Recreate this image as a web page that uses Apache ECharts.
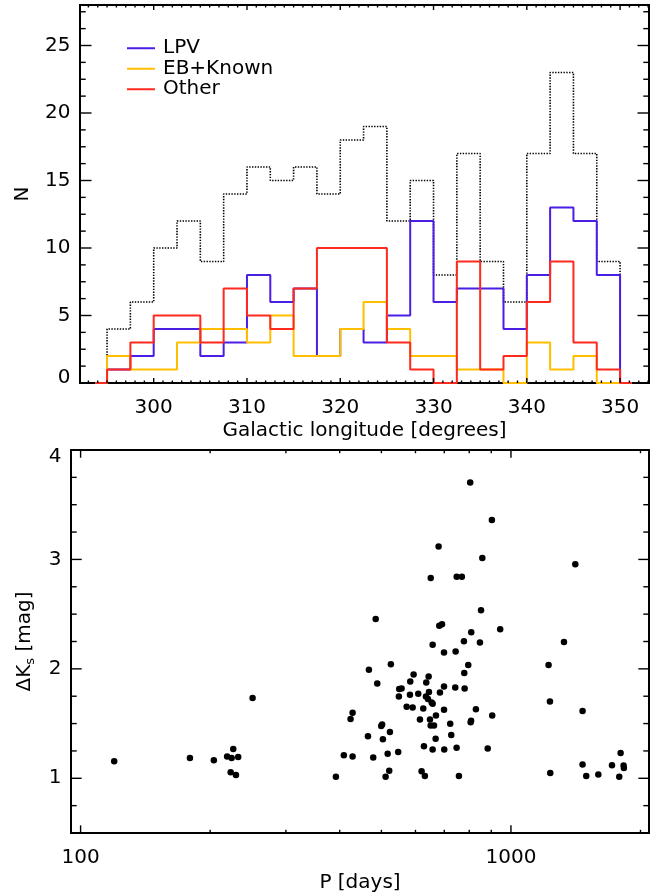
<!DOCTYPE html>
<html>
<head>
<meta charset="utf-8">
<script src="https://cdn.jsdelivr.net/npm/echarts@6/dist/echarts.min.js"></script>
<style>html,body{margin:0;padding:0;background:#fff;}#c{width:660px;height:896px;}</style>
</head>
<body>
<div id="c"></div>
<script>
// ---- Top panel: histogram of galactic longitude (bin centres, 2.5 deg bins) ----
const binCenters = [293.75, 296.25, 298.75, 301.25, 303.75, 306.25, 308.75, 311.25, 313.75, 316.25, 318.75, 321.25,
                    323.75, 326.25, 328.75, 331.25, 333.75, 336.25, 338.75, 341.25, 343.75, 346.25, 348.75, 351.25];
const totalCounts = [0, 4, 6, 10, 12, 9, 14, 16, 15, 16, 14, 18, 19, 12, 15, 8, 17, 9, 6, 17, 23, 17, 9, 0];
const lpvCounts   = [0, 1, 2, 4, 4, 2, 3, 8, 6, 7, 2, 4, 3, 5, 12, 6, 7, 7, 4, 8, 13, 12, 8, 0];
const ebCounts    = [0, 2, 1, 1, 3, 4, 4, 3, 5, 2, 2, 4, 6, 4, 2, 2, 1, 1, 0, 3, 1, 2, 0, 0];
const otherCounts = [0, 1, 3, 5, 5, 3, 7, 5, 4, 7, 10, 10, 10, 3, 1, 0, 9, 1, 2, 6, 9, 3, 1, 0];
const legendNames = ['LPV', 'EB+Known', 'Other'];

// ---- Bottom panel: amplitude vs period ----
const periods = [
  119.7, 179.5, 204, 219, 224.4, 226.3, 232.4, 223.2, 229.6, 251, 392, 409, 424, 428.6, 428.6,
  657.7, 777.6, 847, 698.9, 743.7, 1328, 1223, 526, 467.7, 489, 594, 643.7, 583.5, 635.6, 550,
  557, 549, 582.5, 609, 634.6, 644.9, 641.5, 654.3, 657.7, 683.9, 699, 742.3, 780.5, 778.9, 795.7,
  572.3, 591, 625.5, 699, 829, 904.6, 614.5, 648.4, 669.5, 650.8, 662.5, 722.5, 806, 808, 499.5,
  502, 523.3, 465.3, 504, 668.3, 726.5, 627.8, 657.7, 699.8, 747.7, 883, 547, 517, 478.6, 521.4,
  511.4, 620, 631, 757, 1232, 1467, 1234, 1467, 1496, 1596, 1717, 1798, 1827, 1830, 1785,
  804, 903, 679, 858, 1411, 651, 748, 769, 485, 852, 681.5, 691.5, 808.6, 944
];
const deltaK = [
  1.155, 1.186, 1.164, 1.20, 1.186, 1.268, 1.195, 1.055, 1.031, 1.733, 1.013, 1.21, 1.541, 1.60, 1.20,
  2.221, 2.252, 2.24, 2.149, 2.158, 2.246, 2.036, 2.043, 1.991, 1.866, 1.948, 1.93, 1.884, 1.875, 1.815,
  1.82, 1.747, 1.763, 1.772, 1.747, 1.788, 1.724, 1.693, 1.681, 1.784, 1.839, 1.83, 1.82, 1.961, 2.036,
  1.654, 1.647, 1.638, 1.626, 1.632, 1.574, 1.538, 1.538, 1.574, 1.483, 1.483, 1.499, 1.511, 1.526, 1.478,
  1.492, 1.423, 1.383, 1.356, 1.362, 1.396, 1.292, 1.262, 1.262, 1.28, 1.273, 1.241, 1.225, 1.189, 1.07,
  1.013, 1.064, 1.022, 1.022, 1.702, 1.614, 1.049, 1.125, 1.022, 1.034, 1.119, 1.231, 1.116, 1.095, 1.013,
  3.702, 3.361, 3.118, 3.012, 2.957, 2.83, 2.841, 2.841, 2.456, 2.535, 2.395, 2.407, 2.335, 2.362
];

// ---- Tick values / labels ----
const topXMajor = [300, 310, 320, 330, 340, 350];
const topYMajor = [0, 5, 10, 15, 20, 25];
const botXMajor = [100, 1000];
const botYMajor = [1, 2, 3, 4];

const topXRange = [292.1, 353.1], topYRange = [0, 28];
const botXRange = [95, 2093], botYRange = [0.5, 4];

const topXMinor = []; for (let v = 293; v <= 353; v++) if (v % 10 !== 0) topXMinor.push(v);
const topYMinor = []; for (let v = 1.25; v < 28; v += 1.25) if (Math.abs(v / 5 - Math.round(v / 5)) > 1e-6) topYMinor.push(v);
const botXMinor = [200, 300, 400, 500, 600, 700, 800, 900, 2000];
const botYMinor = []; for (let v = 0.75; v < 4; v += 0.25) if (Math.abs(v - Math.round(v)) > 1e-6) botYMinor.push(v);

const FONT = 'DejaVu Sans';
const COLORS = { lpv: '#4b1ee6', eb: '#ffbf00', other: '#ff2a1e' };

function tickSeries(gi, dir, values, len, xr, yr, withLabels) {
  const data = values.map(v => dir === 'x' ? [v, yr[0]] : [xr[0], v]);
  return {
    type: 'custom', xAxisIndex: gi, yAxisIndex: gi, silent: true, clip: false, z: 5,
    data: data,
    renderItem: function (params, api) {
      const children = [];
      const st = { stroke: '#000', lineWidth: 1.4 };
      if (dir === 'x') {
        const v = api.value(0);
        const p0 = api.coord([v, yr[0]]), p1 = api.coord([v, yr[1]]);
        children.push({ type: 'line', shape: { x1: p0[0], y1: p0[1], x2: p0[0], y2: p0[1] - len }, style: st });
        children.push({ type: 'line', shape: { x1: p1[0], y1: p1[1], x2: p1[0], y2: p1[1] + len }, style: st });
        if (withLabels) {
          children.push({ type: 'text', x: p0[0], y: p0[1] + 24.5,
            style: { text: String(v), fontFamily: FONT, fontSize: 20, fill: '#000', align: 'center', verticalAlign: 'middle' } });
        }
      } else {
        const v = api.value(1);
        const p0 = api.coord([xr[0], v]), p1 = api.coord([xr[1], v]);
        children.push({ type: 'line', shape: { x1: p0[0], y1: p0[1], x2: p0[0] + len, y2: p0[1] }, style: st });
        children.push({ type: 'line', shape: { x1: p1[0], y1: p1[1], x2: p1[0] - len, y2: p1[1] }, style: st });
        if (withLabels) {
          const top = api.coord([xr[0], yr[1]])[1], bot = api.coord([xr[0], yr[0]])[1];
          const y = Math.min(Math.max(p0[1], top + 6.5), bot - 5.5);
          children.push({ type: 'text', x: p0[0] - 9.5, y: y,
            style: { text: String(v), fontFamily: FONT, fontSize: 20, fill: '#000', align: 'right', verticalAlign: 'middle' } });
        }
      }
      return { type: 'group', children: children };
    }
  };
}

function histSeries(name, values, color, dotted) {
  return {
    type: 'line', name: name, xAxisIndex: 0, yAxisIndex: 0, step: 'middle', showSymbol: false, symbol: 'none',
    data: binCenters.map((c, i) => [c, values[i]]),
    lineStyle: { color: color, width: dotted ? 1.6 : 2, type: dotted ? [1.4, 1.4] : 'solid' },
    itemStyle: { color: color },
    z: dotted ? 2 : 3
  };
}

const chart = echarts.init(document.getElementById('c'), null, { renderer: 'canvas' });
chart.setOption({
  animation: false,
  backgroundColor: '#fff',
  textStyle: { fontFamily: FONT },
  grid: [
    { left: 80, top: 5, width: 569, height: 378, show: true, borderColor: '#000', borderWidth: 2, backgroundColor: 'transparent' },
    { left: 71, top: 450, width: 578, height: 383, show: true, borderColor: '#000', borderWidth: 2, backgroundColor: 'transparent' }
  ],
  legend: {
    data: legendNames, orient: 'vertical', left: 127, top: 38, padding: 0, itemWidth: 28, itemHeight: 2, itemGap: 0,
    icon: 'rect', selectedMode: false,
    textStyle: { fontFamily: FONT, fontSize: 20, color: '#000', lineHeight: 20.5, padding: [0, 0, 0, 3] }
  },
  xAxis: [
    { type: 'value', gridIndex: 0, min: topXRange[0], max: topXRange[1],
      axisLine: { show: false }, axisTick: { show: false }, axisLabel: { show: false }, splitLine: { show: false },
      name: 'Galactic longitude [degrees]', nameLocation: 'middle', nameGap: 38,
      nameTextStyle: { fontFamily: FONT, fontSize: 20, color: '#000' } },
    { type: 'log', logBase: 10, gridIndex: 1, min: botXRange[0], max: botXRange[1],
      axisLine: { show: false }, axisTick: { show: false }, axisLabel: { show: false }, splitLine: { show: false },
      minorTick: { show: false }, minorSplitLine: { show: false },
      name: 'P [days]', nameLocation: 'middle', nameGap: 40,
      nameTextStyle: { fontFamily: FONT, fontSize: 20, color: '#000' } }
  ],
  yAxis: [
    { type: 'value', gridIndex: 0, min: topYRange[0], max: topYRange[1],
      axisLine: { show: false }, axisTick: { show: false }, axisLabel: { show: false }, splitLine: { show: false },
      name: 'N', nameLocation: 'middle', nameGap: 47,
      nameTextStyle: { fontFamily: FONT, fontSize: 20, color: '#000' } },
    { type: 'value', gridIndex: 1, min: botYRange[0], max: botYRange[1],
      axisLine: { show: false }, axisTick: { show: false }, axisLabel: { show: false }, splitLine: { show: false },
      name: '{n|ΔK}{s|s}{n| [mag]}', nameLocation: 'middle', nameGap: 34,
      nameTextStyle: { fontFamily: FONT, fontSize: 20, color: '#000',
        rich: {
          n: { fontFamily: FONT, fontSize: 20, color: '#000', lineHeight: 24, verticalAlign: 'middle' },
          s: { fontFamily: FONT, fontSize: 13, color: '#000', lineHeight: 13, verticalAlign: 'bottom' }
        } } }
  ],
  series: [
    histSeries('Total', totalCounts, '#000', true),
    histSeries(legendNames[0], lpvCounts, COLORS.lpv, false),
    histSeries(legendNames[1], ebCounts, COLORS.eb, false),
    histSeries(legendNames[2], otherCounts, COLORS.other, false),
    {
      type: 'scatter', xAxisIndex: 1, yAxisIndex: 1, symbol: 'circle', symbolSize: 6.5,
      itemStyle: { color: '#000', opacity: 1 },
      data: periods.map((p, i) => [p, deltaK[i]])
    },
    tickSeries(0, 'x', topXMajor, 5, topXRange, topYRange, true),
    tickSeries(0, 'x', topXMinor, 2.5, topXRange, topYRange, false),
    tickSeries(0, 'y', topYMajor, 11.5, topXRange, topYRange, true),
    tickSeries(0, 'y', topYMinor, 5.7, topXRange, topYRange, false),
    tickSeries(1, 'x', botXMajor, 7.7, botXRange, botYRange, true),
    tickSeries(1, 'x', botXMinor, 3.2, botXRange, botYRange, false),
    tickSeries(1, 'y', botYMajor, 10.7, botXRange, botYRange, true),
    tickSeries(1, 'y', botYMinor, 5.7, botXRange, botYRange, false)
  ]
});
</script>
</body>
</html>
